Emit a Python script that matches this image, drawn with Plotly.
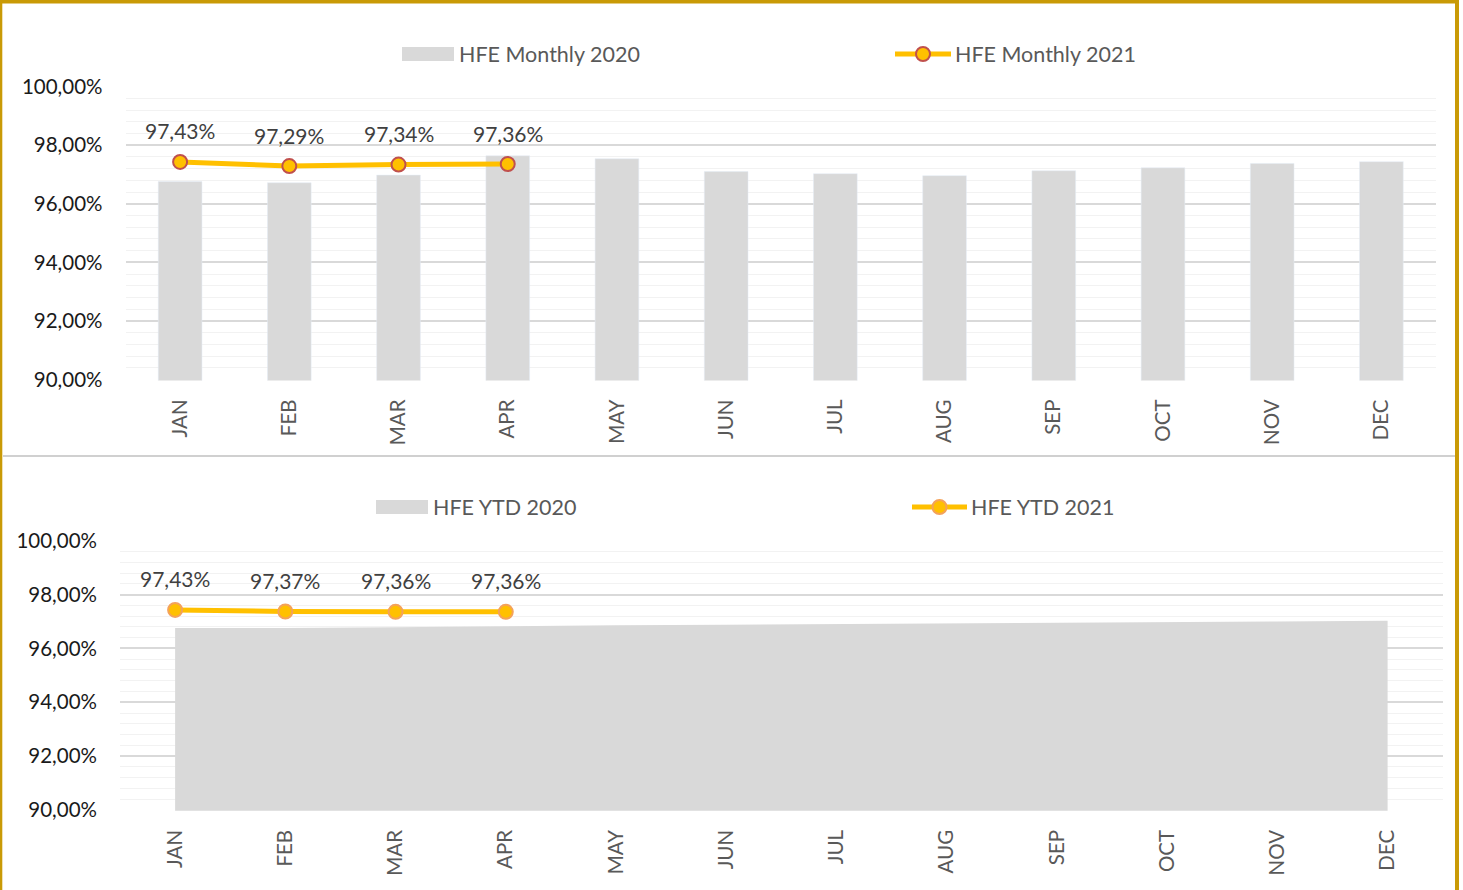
import plotly.graph_objects as go

# ---------------- data ----------------
months = ["JAN", "FEB", "MAR", "APR", "MAY", "JUN",
          "JUL", "AUG", "SEP", "OCT", "NOV", "DEC"]
monthly_2020 = [96.76, 96.72, 96.98, 97.64, 97.54, 97.10,
                97.03, 96.96, 97.13, 97.23, 97.38, 97.44]
monthly_2021 = [97.43, 97.29, 97.34, 97.36]
ytd_2020 = [96.76, 96.76, 96.79, 96.83, 96.86, 96.88,
            96.90, 96.92, 96.94, 96.97, 97.00, 97.03]
ytd_2021 = [97.43, 97.37, 97.36, 97.36]
y_ticks = [90, 92, 94, 96, 98, 100]

# ---------------- geometry helpers ----------------
W, H = 1463, 890
def X(px):
    return px / W
def Y(py):
    return 1 - py / H

FONT = "Lato"
GOLD = "#C99A06"
GRAY = "#D9D9D9"
YELLOW = "#FFC000"

def fmt(v):
    return f"{v:.2f}".replace(".", ",") + "%"

fig = go.Figure()

# top chart: monthly
fig.add_trace(go.Bar(x=months, y=monthly_2020, marker_color=GRAY,
                     name="HFE Monthly 2020", showlegend=False,
                     xaxis="x", yaxis="y"))
fig.add_trace(go.Scatter(x=months[:len(monthly_2021)], y=monthly_2021,
                         mode="lines+markers", name="HFE Monthly 2021",
                         line=dict(color=YELLOW, width=5),
                         marker=dict(size=14, color=YELLOW,
                                     line=dict(color="#C0504D", width=2)),
                         showlegend=False, xaxis="x", yaxis="y"))

# bottom chart: YTD
fig.add_trace(go.Scatter(x=months, y=ytd_2020, mode="lines", fill="tozeroy",
                         fillcolor=GRAY, line=dict(width=0, color=GRAY),
                         name="HFE YTD 2020", showlegend=False,
                         xaxis="x2", yaxis="y2"))
fig.add_trace(go.Scatter(x=months[:len(ytd_2021)], y=ytd_2021,
                         mode="lines+markers", name="HFE YTD 2021",
                         line=dict(color=YELLOW, width=5),
                         marker=dict(size=14, color=YELLOW,
                                     line=dict(color="#F4A25A", width=2)),
                         showlegend=False, xaxis="x2", yaxis="y2"))

annotations = []
for m, v in zip(months, monthly_2021):
    annotations.append(dict(x=m, y=v, xref="x", yref="y", text=fmt(v),
                            showarrow=False, yshift=31,
                            font=dict(family=FONT, size=21, color="#404040")))
for m, v in zip(months, ytd_2021):
    annotations.append(dict(x=m, y=v, xref="x2", yref="y2", text=fmt(v),
                            showarrow=False, yshift=31,
                            font=dict(family=FONT, size=21, color="#404040")))

# custom legends
shapes = []
def legend_rect(x0, x1, yc, label, tx):
    shapes.append(dict(type="rect", xref="paper", yref="paper",
                       x0=X(x0), x1=X(x1), y0=Y(yc + 7), y1=Y(yc - 7),
                       fillcolor=GRAY, line=dict(width=0)))
    annotations.append(dict(x=X(tx), y=Y(yc), xref="paper", yref="paper",
                            xanchor="left", yanchor="middle", text=label,
                            showarrow=False,
                            font=dict(family=FONT, size=21.5, color="#595959")))

def legend_line(x0, x1, yc, label, tx, edge):
    shapes.append(dict(type="line", xref="paper", yref="paper",
                       x0=X(x0), x1=X(x1), y0=Y(yc), y1=Y(yc),
                       line=dict(color=YELLOW, width=5)))
    xc = (x0 + x1) / 2
    shapes.append(dict(type="circle", xref="paper", yref="paper",
                       x0=X(xc - 7), x1=X(xc + 7), y0=Y(yc + 7), y1=Y(yc - 7),
                       fillcolor=YELLOW, line=dict(color=edge, width=2)))
    annotations.append(dict(x=X(tx), y=Y(yc), xref="paper", yref="paper",
                            xanchor="left", yanchor="middle", text=label,
                            showarrow=False,
                            font=dict(family=FONT, size=21.5, color="#595959")))

legend_rect(402, 454, 54, "HFE Monthly 2020", 457)
legend_line(895, 951, 54, "HFE Monthly 2021", 953, "#C0504D")
legend_rect(376, 428, 507, "HFE YTD 2020", 431)
legend_line(912, 967, 507, "HFE YTD 2021", 969, "#F4A25A")

# separator and gold border
shapes.append(dict(type="line", xref="paper", yref="paper",
                   x0=X(3), x1=X(1455), y0=Y(456), y1=Y(456),
                   line=dict(color="#D0D0D0", width=2)))
shapes.append(dict(type="rect", xref="paper", yref="paper",
                   x0=0, x1=X(1459), y0=Y(3.5), y1=1,
                   fillcolor=GOLD, line=dict(width=0)))
shapes.append(dict(type="rect", xref="paper", yref="paper",
                   x0=0, x1=X(2.3), y0=0, y1=1,
                   fillcolor=GOLD, line=dict(width=0)))
shapes.append(dict(type="rect", xref="paper", yref="paper",
                   x0=X(1455), x1=X(1459), y0=0, y1=1,
                   fillcolor=GOLD, line=dict(width=0)))

PAD = 0.03  # tiny range padding so the 90 and 100 gridlines are drawn
yaxis_common = dict(
    range=[90 - PAD, 100 + PAD], tickvals=y_ticks,
    ticktext=[fmt(v) for v in y_ticks], automargin=False,
    showgrid=True, gridcolor=GRAY, gridwidth=1.5, zeroline=False,
    showline=False, ticks="", ticklabelstandoff=22,
    tickfont=dict(family=FONT, size=20.5, color="#1a1a1a"),
    minor=dict(dtick=0.4, tick0=90, showgrid=True, gridcolor="#F2F2F2",
               gridwidth=1),
)
xaxis_common = dict(
    type="category", categoryorder="array", categoryarray=months,
    range=[-0.5, 11.5], showgrid=False, zeroline=False, showline=False,
    automargin=False, tickangle=-90, ticks="", ticklabelstandoff=14,
    tickfont=dict(family=FONT, size=20.5, color="#595959"),
)

top_ppu = (379.5 - 86.7) / 10.0
bot_ppu = (810 - 540.7) / 10.0

fig.update_layout(
    width=W, height=H, margin=dict(l=0, r=0, t=0, b=0, pad=0),
    autosize=False,
    paper_bgcolor="white", plot_bgcolor="white",
    bargap=0.6, showlegend=False,
    xaxis=dict(domain=[X(125.5), X(1436)], anchor="y", **xaxis_common),
    yaxis=dict(domain=[Y(379.5 + PAD * top_ppu), Y(86.7 - PAD * top_ppu)],
               anchor="x", **yaxis_common),
    xaxis2=dict(domain=[X(120), X(1442.7)], anchor="y2", **xaxis_common),
    yaxis2=dict(domain=[Y(810 + PAD * bot_ppu), Y(540.7 - PAD * bot_ppu)],
                anchor="x2", **yaxis_common),
    shapes=shapes, annotations=annotations,
)

fig.write_html("out.html", config={"displayModeBar": False})

# pin the figure to the window origin
with open("out.html", "r", encoding="utf-8") as f:
    html = f.read()
css = ("<style>html,body{margin:0;padding:0;overflow:hidden;}"
       ".plotly-graph-div{position:absolute !important;top:0;left:0;}</style>")
html = html.replace("<head>", "<head>" + css, 1)
with open("out.html", "w", encoding="utf-8") as f:
    f.write(html)
